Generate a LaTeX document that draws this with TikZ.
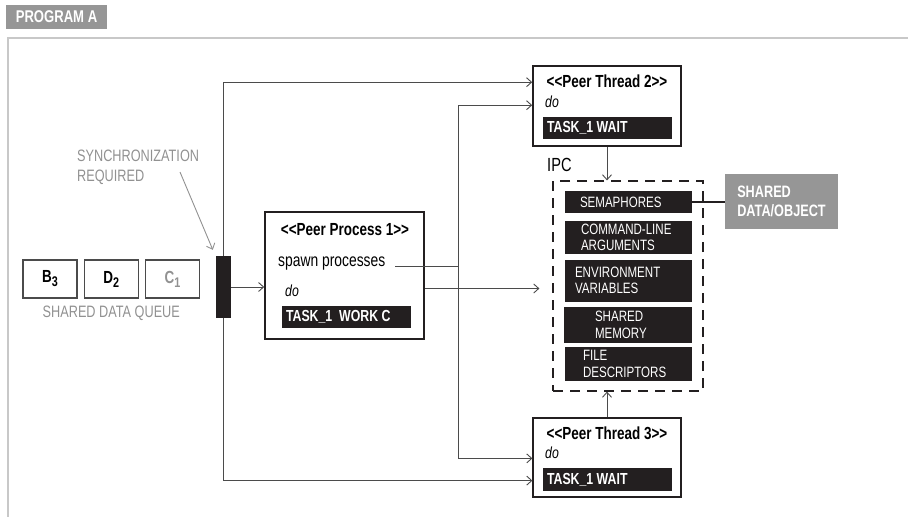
\documentclass[tikz,border=0pt]{standalone}
\usepackage{fontspec}
\setmainfont{Liberation Sans}[FakeStretch=0.77]
\usetikzlibrary{arrows.meta, calc, positioning}
\definecolor{framegray}{RGB}{200,200,200}
\definecolor{labelgray}{RGB}{150,150,150}
\definecolor{softgray}{RGB}{145,145,145}
\definecolor{barblack}{RGB}{35,31,32}
\definecolor{linegray}{RGB}{75,75,75}
\newcommand{\stereo}[1]{<\kern0pt<#1>\kern0pt>}
\newcommand{\qsub}[1]{\raisebox{-4pt}{\fontsize{14}{14}\selectfont #1}}

\tikzset{
  peerbox/.style={draw=barblack, line width=1.6pt, minimum width=148pt,
                  minimum height=80pt, inner sep=0pt},
  taskbar/.style={fill=barblack, minimum width=129pt, minimum height=22pt, inner sep=0pt},
  tasktext/.style={text=white, font=\fontsize{16}{17}\selectfont\bfseries,
                   anchor=west, inner sep=0pt},
  titletext/.style={font=\fontsize{17.5}{19}\selectfont\bfseries, inner sep=0pt},
  bodytext/.style={font=\fontsize{18}{19}\selectfont, inner sep=0pt, anchor=west},
  dotext/.style={font=\fontsize{16}{18}\selectfont\itshape, inner sep=0pt, anchor=west},
  graytext/.style={text=softgray, font=\fontsize{16.5}{20}\selectfont, inner sep=0pt},
  queuebox/.style={draw=linegray, line width=1.3pt, minimum width=54pt,
                   minimum height=38pt, font=\fontsize{17.5}{19}\selectfont\bfseries},
  ipcbox/.style={fill=barblack, minimum width=127pt, inner sep=0pt},
  ipctext/.style={text=white, font=\fontsize{15}{16.5}\selectfont, align=left,
                  anchor=west, inner sep=0pt},
  conn/.style={draw=linegray, line width=0.9pt},
  arrowconn/.style={conn, -{Straight Barb[length=5pt,width=9pt]}}
}

\begin{document}
\begin{tikzpicture}[x=1pt, y=-1pt]
  \useasboundingbox (0,0) rectangle (908,517);

  % Frame and program tag
  \draw[framegray, line width=2.5pt] (908,38) -| (8,517);
  \node[fill=labelgray, text=white, minimum width=101pt, minimum height=24pt,
        inner sep=0pt, font=\fontsize{17}{19}\selectfont\bfseries] (prog) at (56.5,17) {PROGRAM A};

  % Shared data queue
  \node[queuebox] (qB) at (50,279) {B\qsub{3}};
  \node[queuebox, right=6pt of qB] (qD) {D\qsub{2}};
  \node[queuebox, right=6pt of qD, text=softgray] (qC) {C\qsub{1}};
  \node[graytext, below=7pt of qD] (qlabel) {SHARED DATA QUEUE};

  % Synchronization
  \node[graytext, align=left, anchor=north west] (sync) at (77,150) {SYNCHRONIZATION\\REQUIRED};
  \node[fill=barblack, minimum width=15pt, minimum height=62pt, inner sep=0pt] (bar) at (223.5,287) {};
  \coordinate (syncfrom) at (180,172);
  \draw[draw=softgray, line width=0.9pt, -{Straight Barb[length=5pt,width=9pt]}]
    (syncfrom) -- ($(bar.north west)+(-3,-6)$);

  % Peer process 1
  \node[peerbox, minimum width=159pt, minimum height=127pt] (pp1) at (344.5,275.5) {};
  \node[titletext] (pp1title) at (345,230) {\stereo{Peer Process 1}};
  \node[bodytext] (spawn) at (278,264) {spawn processes};
  \node[dotext] (pp1do) at (285,291) {do};
  \node[taskbar] (pp1task) at (346.5,317) {};
  \node[tasktext] at ($(pp1task.west)+(4,0)$) {TASK\_1\ \ WORK C};

  % Peer thread 2
  \node[peerbox] (pt2) at (607,106) {};
  \node[titletext] (pt2title) at (607,81) {\stereo{Peer Thread 2}};
  \node[dotext] (pt2do) at (545,102) {do};
  \node[taskbar] (pt2task) at (607.5,127.5) {};
  \node[tasktext] at ($(pt2task.west)+(4,0)$) {TASK\_1 WAIT};

  % Peer thread 3
  \node[peerbox, line width=1.2pt, minimum height=79pt] (pt3) at (607,457.5) {};
  \node[titletext] (pt3title) at (607,433) {\stereo{Peer Thread 3}};
  \node[dotext] (pt3do) at (545,453) {do};
  \node[taskbar, minimum height=23pt] (pt3task) at (607.5,479.5) {};
  \node[tasktext] at ($(pt3task.west)+(4,0)$) {TASK\_1 WAIT};

  % IPC
  \node[draw=barblack, line width=1.2pt, dash pattern=on 10pt off 7pt,
        minimum width=150pt, minimum height=210pt, inner sep=0pt] (ipc) at (628,286) {};
  \node[font=\fontsize{19}{21}\selectfont, inner sep=0pt, anchor=west] (ipclabel) at (547,165) {IPC};
  \node[ipcbox, minimum height=22pt] (sem) at (628.5,202) {};
  \node[ipctext] at ($(sem.west)+(15,0)$) {SEMAPHORES};
  \node[ipcbox, minimum height=33pt] (cmd) at (628.5,237.5) {};
  \node[ipctext] at ($(cmd.west)+(16,0)$) {COMMAND-LINE\\ARGUMENTS};
  \node[ipcbox, minimum height=42pt] (env) at (628.5,280.5) {};
  \node[ipctext] at ($(env.west)+(10,0)$) {ENVIRONMENT\\VARIABLES};
  \node[ipcbox, minimum width=128pt, minimum height=36pt] (shm) at (628,325) {};
  \node[ipctext] at ($(shm.west)+(31,0)$) {SHARED\\MEMORY};
  \node[ipcbox, minimum height=34pt] (fd) at (628.5,364) {};
  \node[ipctext] at ($(fd.west)+(18,0)$) {FILE\\DESCRIPTORS};

  \node[fill=labelgray, text=white, minimum width=113pt, minimum height=55pt, inner sep=0pt,
        align=left, font=\fontsize{16.5}{19.5}\selectfont\bfseries] (shared) at (781.5,201.5) {SHARED\\DATA/OBJECT};
  \draw[barblack, line width=2pt] (sem.east) -- (sem.east -| shared.west);

  % Connectors
  \draw[arrowconn] (bar.east) -- (bar.east -| pp1.west);
  \draw[arrowconn] (bar.north) |- ($(pt2.north west)+(0,17)$);
  \draw[arrowconn] (bar.south) |- ($(pt3.south west)+(0,-17)$);
  \coordinate (fork) at (458,266);
  \draw[conn] ($(spawn.east)+(10,2)$) -- (fork);
  \draw[arrowconn] (fork) |- ($(pt2.north west)+(0,40)$);
  \draw[arrowconn] (fork) |- ($(pt3.north west)+(0,41)$);
  \coordinate (ppout) at ($(pp1.east)+(0,13)$);
  \draw[arrowconn] (ppout) -- ($(ppout -| ipc.west)+(-13,0)$);
  \draw[arrowconn] (pt2.south) -- (pt2.south |- ipc.north);
  \draw[arrowconn] (pt3.north) -- (pt3.north |- ipc.south);
\end{tikzpicture}
\end{document}
